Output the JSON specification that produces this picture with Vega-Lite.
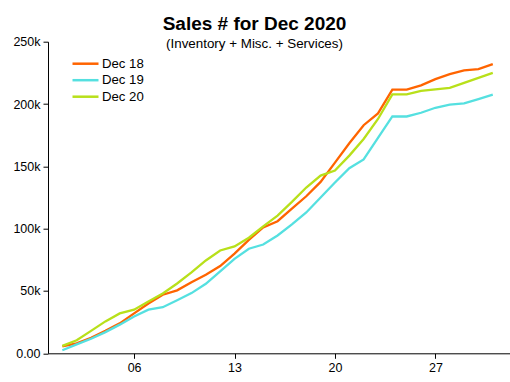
{
  "$schema": "https://vega.github.io/schema/vega-lite/v6.json",
  "width": 462,
  "height": 311.6,
  "autosize": {"type": "none"},
  "padding": {"left": 48, "top": 41.7, "right": 0, "bottom": 29},
  "background": "white",
  "title": {
    "text": "Sales # for Dec 2020",
    "subtitle": "(Inventory + Misc. + Services)",
    "anchor": "middle",
    "frame": "group",
    "dx": -24.5,
    "offset": -15,
    "font": "Liberation Sans",
    "fontSize": 19,
    "fontWeight": "bold",
    "color": "black",
    "subtitleFont": "Liberation Sans",
    "subtitleFontSize": 13.4,
    "subtitleColor": "black",
    "subtitlePadding": 3
  },
  "config": {
    "view": {"stroke": null},
    "font": "Liberation Sans"
  },
  "data": {
    "values": [
      {"day": 1, "series": "Dec 18", "sales": 5500},
      {"day": 2, "series": "Dec 18", "sales": 8000},
      {"day": 3, "series": "Dec 18", "sales": 12500},
      {"day": 4, "series": "Dec 18", "sales": 18000},
      {"day": 5, "series": "Dec 18", "sales": 24000},
      {"day": 6, "series": "Dec 18", "sales": 32000},
      {"day": 7, "series": "Dec 18", "sales": 40000},
      {"day": 8, "series": "Dec 18", "sales": 47000},
      {"day": 9, "series": "Dec 18", "sales": 50500},
      {"day": 10, "series": "Dec 18", "sales": 57000},
      {"day": 11, "series": "Dec 18", "sales": 63000},
      {"day": 12, "series": "Dec 18", "sales": 70000},
      {"day": 13, "series": "Dec 18", "sales": 80000},
      {"day": 14, "series": "Dec 18", "sales": 91000},
      {"day": 15, "series": "Dec 18", "sales": 101000},
      {"day": 16, "series": "Dec 18", "sales": 106000},
      {"day": 17, "series": "Dec 18", "sales": 116000},
      {"day": 18, "series": "Dec 18", "sales": 126000},
      {"day": 19, "series": "Dec 18", "sales": 137500},
      {"day": 20, "series": "Dec 18", "sales": 153000},
      {"day": 21, "series": "Dec 18", "sales": 168500},
      {"day": 22, "series": "Dec 18", "sales": 183000},
      {"day": 23, "series": "Dec 18", "sales": 192500},
      {"day": 24, "series": "Dec 18", "sales": 211500},
      {"day": 25, "series": "Dec 18", "sales": 211500},
      {"day": 26, "series": "Dec 18", "sales": 215000},
      {"day": 27, "series": "Dec 18", "sales": 220000},
      {"day": 28, "series": "Dec 18", "sales": 224000},
      {"day": 29, "series": "Dec 18", "sales": 227000},
      {"day": 30, "series": "Dec 18", "sales": 228000},
      {"day": 31, "series": "Dec 18", "sales": 232000},
      {"day": 1, "series": "Dec 19", "sales": 2400},
      {"day": 2, "series": "Dec 19", "sales": 7200},
      {"day": 3, "series": "Dec 19", "sales": 11700},
      {"day": 4, "series": "Dec 19", "sales": 17000},
      {"day": 5, "series": "Dec 19", "sales": 23000},
      {"day": 6, "series": "Dec 19", "sales": 29600},
      {"day": 7, "series": "Dec 19", "sales": 35000},
      {"day": 8, "series": "Dec 19", "sales": 37000},
      {"day": 9, "series": "Dec 19", "sales": 42500},
      {"day": 10, "series": "Dec 19", "sales": 48300},
      {"day": 11, "series": "Dec 19", "sales": 55800},
      {"day": 12, "series": "Dec 19", "sales": 65700},
      {"day": 13, "series": "Dec 19", "sales": 75800},
      {"day": 14, "series": "Dec 19", "sales": 83900},
      {"day": 15, "series": "Dec 19", "sales": 87300},
      {"day": 16, "series": "Dec 19", "sales": 94500},
      {"day": 17, "series": "Dec 19", "sales": 103400},
      {"day": 18, "series": "Dec 19", "sales": 113000},
      {"day": 19, "series": "Dec 19", "sales": 125000},
      {"day": 20, "series": "Dec 19", "sales": 137000},
      {"day": 21, "series": "Dec 19", "sales": 148500},
      {"day": 22, "series": "Dec 19", "sales": 155500},
      {"day": 23, "series": "Dec 19", "sales": 172800},
      {"day": 24, "series": "Dec 19", "sales": 190000},
      {"day": 25, "series": "Dec 19", "sales": 190000},
      {"day": 26, "series": "Dec 19", "sales": 193000},
      {"day": 27, "series": "Dec 19", "sales": 197000},
      {"day": 28, "series": "Dec 19", "sales": 199500},
      {"day": 29, "series": "Dec 19", "sales": 200600},
      {"day": 30, "series": "Dec 19", "sales": 204000},
      {"day": 31, "series": "Dec 19", "sales": 207500},
      {"day": 1, "series": "Dec 20", "sales": 5900},
      {"day": 2, "series": "Dec 20", "sales": 10400},
      {"day": 3, "series": "Dec 20", "sales": 18000},
      {"day": 4, "series": "Dec 20", "sales": 25600},
      {"day": 5, "series": "Dec 20", "sales": 32000},
      {"day": 6, "series": "Dec 20", "sales": 35000},
      {"day": 7, "series": "Dec 20", "sales": 41500},
      {"day": 8, "series": "Dec 20", "sales": 48000},
      {"day": 9, "series": "Dec 20", "sales": 56000},
      {"day": 10, "series": "Dec 20", "sales": 65000},
      {"day": 11, "series": "Dec 20", "sales": 74500},
      {"day": 12, "series": "Dec 20", "sales": 82500},
      {"day": 13, "series": "Dec 20", "sales": 85700},
      {"day": 14, "series": "Dec 20", "sales": 92700},
      {"day": 15, "series": "Dec 20", "sales": 101800},
      {"day": 16, "series": "Dec 20", "sales": 110500},
      {"day": 17, "series": "Dec 20", "sales": 121500},
      {"day": 18, "series": "Dec 20", "sales": 133000},
      {"day": 19, "series": "Dec 20", "sales": 142600},
      {"day": 20, "series": "Dec 20", "sales": 146600},
      {"day": 21, "series": "Dec 20", "sales": 158600},
      {"day": 22, "series": "Dec 20", "sales": 172000},
      {"day": 23, "series": "Dec 20", "sales": 188000},
      {"day": 24, "series": "Dec 20", "sales": 207800},
      {"day": 25, "series": "Dec 20", "sales": 207800},
      {"day": 26, "series": "Dec 20", "sales": 210500},
      {"day": 27, "series": "Dec 20", "sales": 211800},
      {"day": 28, "series": "Dec 20", "sales": 213000},
      {"day": 29, "series": "Dec 20", "sales": 217000},
      {"day": 30, "series": "Dec 20", "sales": 221000},
      {"day": 31, "series": "Dec 20", "sales": 225000}
    ]
  },
  "mark": {"type": "line", "strokeWidth": 2.3, "clip": false},
  "encoding": {
    "x": {
      "field": "day",
      "type": "quantitative",
      "scale": {"domain": [0, 32.2], "nice": false, "zero": false},
      "axis": {
        "title": null,
        "values": [6, 13, 20, 27],
        "labelExpr": "datum.value < 10 ? '0' + datum.value : '' + datum.value",
        "grid": false,
        "domainColor": "black",
        "domainWidth": 1,
        "tickColor": "black",
        "tickSize": 5,
        "labelColor": "black",
        "labelFontSize": 12.5,
        "labelPadding": 3
      }
    },
    "y": {
      "field": "sales",
      "type": "quantitative",
      "scale": {"domain": [0, 250000], "nice": false},
      "axis": {
        "title": null,
        "values": [0, 50000, 100000, 150000, 200000, 250000],
        "labelExpr": "datum.value == 0 ? '0.00' : (datum.value / 1000) + 'k'",
        "grid": false,
        "domainColor": "black",
        "domainWidth": 1,
        "tickColor": "black",
        "tickSize": 5,
        "labelColor": "black",
        "labelFontSize": 12.5,
        "labelPadding": 3
      }
    },
    "color": {
      "field": "series",
      "type": "nominal",
      "scale": {
        "domain": ["Dec 18", "Dec 19", "Dec 20"],
        "range": ["#FF6400", "#55E0E0", "#B8E01A"]
      },
      "legend": {
        "title": null,
        "orient": "none",
        "legendX": 29.5,
        "legendY": 14,
        "symbolType": "M-2,0H2",
        "symbolSize": 169,
        "symbolStrokeWidth": 2.5,
        "labelFontSize": 13.2,
        "labelColor": "black",
        "labelOffset": 8.5,
        "rowPadding": 1.5,
        "padding": 0
      }
    }
  }
}
